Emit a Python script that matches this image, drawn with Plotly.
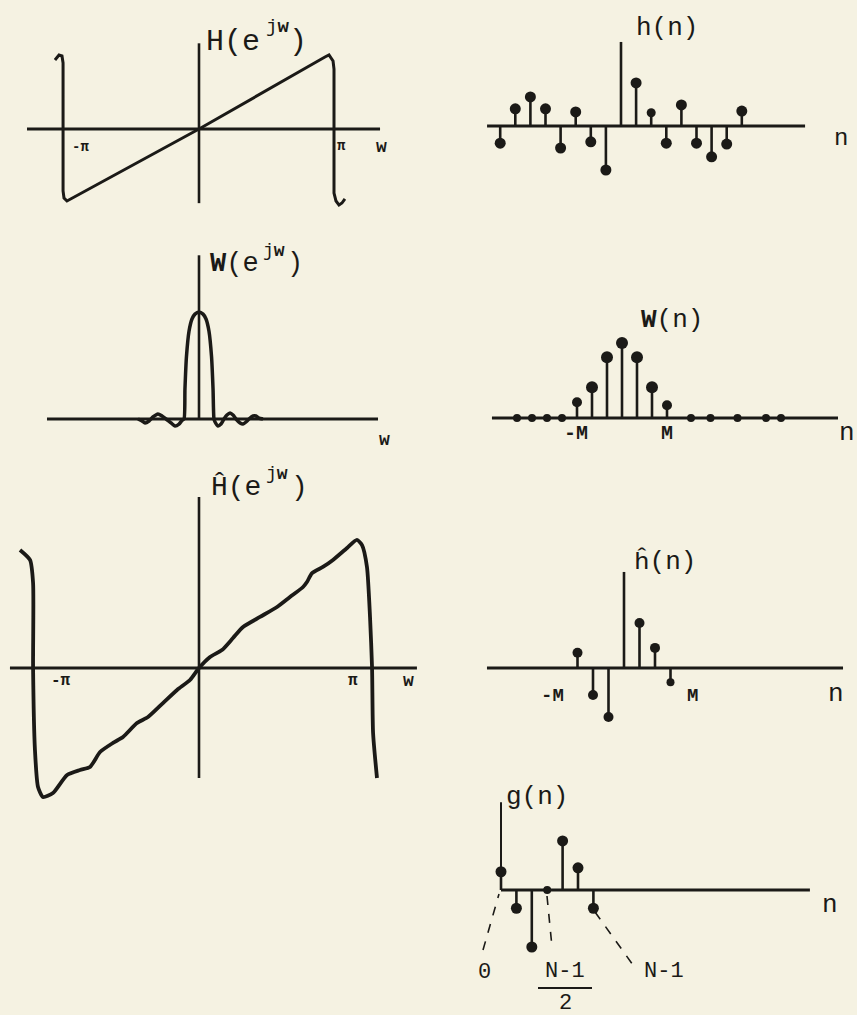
import plotly.graph_objects as go

# ---------------------------------------------------------------- data
# Ideal response H(e^jw): frequency in units of pi, amplitude normalised
w_ideal = [-1.067, -1.037, -1.015, -1.007, -1.007, -1.0, -0.978, 0.0, 0.933,
           0.963, 0.993, 1.0, 1.0, 1.015, 1.037, 1.059, 1.081]
H_ideal = [0.958, 1.028, 1.014, 0.917, -0.861, -0.958, -1.0, 0.0, 1.0,
           1.028, 0.944, 0.833, -0.889, -1.0, -1.056, -1.028, -0.972]

# Ideal impulse response h(n)
n_h = [-8, -7, -6, -5, -4, -3, -2, -1, 1, 2, 3, 4, 5, 6, 7, 8]
h_vals = [-0.39, 0.39, 0.66, 0.39, -0.50, 0.32, -0.36, -1.0,
          0.98, 0.30, -0.39, 0.48, -0.39, -0.70, -0.41, 0.34]

# Window spectrum W(e^jw)
w_win = [-0.452, -0.422, -0.400, -0.370, -0.341, -0.304, -0.274, -0.244,
         -0.207, -0.178, -0.148, -0.125, -0.111, -0.104, -0.093, -0.074,
         -0.052, -0.030, 0.0, 0.030, 0.052, 0.074, 0.093, 0.104, 0.111,
         0.119, 0.141, 0.163, 0.185, 0.207, 0.230, 0.252,
         0.274, 0.304, 0.326, 0.348, 0.370, 0.400, 0.422, 0.444, 0.474]
W_win = [0.0, -0.019, -0.037, -0.019, 0.019, 0.047, 0.028, 0.0,
         -0.037, -0.065, -0.047, -0.012, 0.0, 0.28, 0.58, 0.82,
         0.935, 0.98, 1.0, 0.98, 0.935, 0.82, 0.58, 0.28, 0.0,
         -0.028, -0.065, -0.047, 0.0, 0.037, 0.056, 0.037,
         0.0, -0.037, -0.047, -0.028, 0.0, 0.028, 0.028, 0.009, 0.0]

# Window sequence W(n), M = 3
M = 3
n_w = [-7, -6, -5, -4, -3, -2, -1, 0, 1, 2, 3, 4.6, 5.9, 7.7, 9.6, 10.6]
w_vals = [0, 0, 0, 0, 0.21, 0.41, 0.81, 1.0, 0.81, 0.41, 0.17, 0, 0, 0, 0, 0]

# Windowed response H^(e^jw)
w_hat = [-1.053, -0.994, -0.976, -0.976, -0.965, -0.947, -0.918, -0.859,
         -0.776, -0.700, -0.641, -0.582, -0.506, -0.447, -0.365, -0.300,
         -0.212, -0.129, -0.053, 0.0, 0.065, 0.135, 0.200, 0.259, 0.359,
         0.459, 0.535, 0.612, 0.635, 0.665, 0.729, 0.788, 0.871, 0.929,
         0.959, 0.988, 1.006, 1.018, 1.024, 1.047]
H_hat = [0.855, 0.783, 0.616, 0.0, -0.594, -0.862, -0.935, -0.906,
         -0.775, -0.739, -0.717, -0.609, -0.543, -0.500, -0.399, -0.355,
         -0.254, -0.159, -0.087, 0.0, 0.080, 0.130, 0.217, 0.297, 0.370,
         0.442, 0.514, 0.587, 0.623, 0.688, 0.732, 0.783, 0.870, 0.928,
         0.891, 0.732, 0.370, 0.0, -0.471, -0.797]

# Windowed sequence h^(n)
n_hh = [-3, -2, -1, 1, 2, 3]
hh_vals = [0.31, -0.55, -1.0, 0.92, 0.41, -0.29]

# Causal sequence g(n) = h^(n - (N-1)/2), N - 1 = 6
n_g = [0, 1, 2, 3, 4, 5, 6]
g_vals = [0.32, -0.32, -1.0, 0.0, 0.86, 0.39, -0.32]

# ---------------------------------------------------------------- style
W_PX, H_PX = 857, 1015
BG = "#f5f2e2"
INK = "#1b1a17"
FONT = "Liberation Mono"

fig = go.Figure()
shapes = []
annotations = []


def refs(i):
    return ("x", "y") if i == 1 else (f"x{i}", f"y{i}")


def panel(i, box, origin, scale):
    """Place axis pair i so that data (0,0) sits at `origin` (pixels)."""
    x0, y0, x1, y1 = box
    cx, cy = origin
    sx, sy = scale
    xa = "xaxis" if i == 1 else f"xaxis{i}"
    ya = "yaxis" if i == 1 else f"yaxis{i}"
    xr, yr = refs(i)
    fig.layout[xa] = dict(domain=[x0 / W_PX, x1 / W_PX],
                          range=[(x0 - cx) / sx, (x1 - cx) / sx],
                          visible=False, anchor=yr, fixedrange=True)
    fig.layout[ya] = dict(domain=[1 - y1 / H_PX, 1 - y0 / H_PX],
                          range=[(cy - y1) / sy, (cy - y0) / sy],
                          visible=False, anchor=xr, fixedrange=True)


def axis_line(i, xa, ya, xb, yb, width=3):
    xr, yr = refs(i)
    shapes.append(dict(type="line", xref=xr, yref=yr, x0=xa, y0=ya,
                       x1=xb, y1=yb, line=dict(color=INK, width=width)))


def curve(i, xs, ys, width=3, shape="linear"):
    xr, yr = refs(i)
    fig.add_trace(go.Scatter(x=xs, y=ys, mode="lines", xaxis=xr, yaxis=yr,
                             line=dict(color=INK, width=width, shape=shape,
                                       smoothing=0.6 if shape == "spline" else None),
                             hoverinfo="skip"))


def stems(i, ns, vals, size=9, width=2.6, zero_size=7):
    xr, yr = refs(i)
    sx, sy = [], []
    for n, v in zip(ns, vals):
        if v != 0:
            sx += [n, n, None]
            sy += [0, v, None]
    fig.add_trace(go.Scatter(x=sx, y=sy, mode="lines", xaxis=xr, yaxis=yr,
                             line=dict(color=INK, width=width),
                             hoverinfo="skip"))
    sizes = [zero_size if v == 0 else (size if abs(v) > 0.3 else size - 2)
             for v in vals]
    fig.add_trace(go.Scatter(x=ns, y=vals, mode="markers", xaxis=xr, yaxis=yr,
                             marker=dict(color=INK, size=sizes, opacity=1,
                                         line=dict(width=0)),
                             cliponaxis=False, hoverinfo="skip"))


def label(text, px, py, size=24, xanchor="center", yanchor="middle"):
    annotations.append(dict(text=text, x=px / W_PX, y=1 - py / H_PX,
                            xref="paper", yref="paper", showarrow=False,
                            xanchor=xanchor, yanchor=yanchor, borderpad=0,
                            font=dict(family=FONT, size=size, color=INK)))


def spectrum_label(name, x_base, x_sup, x_close, py, size=28, sup_size=18):
    """Name(e^jw) written as three pieces so the exponent sits raised."""
    label(name + "(e", x_base, py, size=size, xanchor="left")
    label("j<b>w</b>", x_sup, py - 0.5 * size, size=sup_size, xanchor="left")
    label(")", x_close, py, size=size, xanchor="left")


def paper_line(xa, ya, xb, yb, dash=None, width=1.6):
    shapes.append(dict(type="line", xref="paper", yref="paper",
                       x0=xa / W_PX, y0=1 - ya / H_PX,
                       x1=xb / W_PX, y1=1 - yb / H_PX,
                       line=dict(color=INK, width=width, dash=dash)))


# ---------------------------------------------------------------- panels
# 1: H(e^jw)
panel(1, (0, 20, 430, 220), (199, 129), (135, 72))
axis_line(1, -1.274, 0, 1.341, 0)
axis_line(1, 0, 1.19, 0, -1.03, width=2.6)
curve(1, w_ideal, H_ideal, width=3)
spectrum_label("H", 205, 265, 288, 42, size=30, sup_size=19)
label("<b>-π</b>", 80, 147, size=14)
label("<b>π</b>", 341, 146, size=14)
label("<b>w</b>", 381, 147, size=18)

# 2: h(n)
panel(2, (440, 10, 857, 200), (621, 126), (15.1, 44))
axis_line(2, -8.87, 0, 12.19, 0)
axis_line(2, 0, 0, 0, 1.91, width=2.6)
stems(2, n_h, h_vals, size=11)
label("h(n)", 667, 28, size=26)
label("n", 841, 138, size=24)

# 3: W(e^jw)
panel(3, (0, 240, 430, 460), (199, 419), (135, 107))
axis_line(3, -1.126, 0, 1.326, 0)
axis_line(3, 0, 0, 0, 1.53, width=2.6)
curve(3, w_win, W_win, width=3.5, shape="spline")
spectrum_label("<b>W</b>", 209, 262, 286, 264, size=27, sup_size=18)
label("<b>w</b>", 384, 440, size=18)

# 4: W(n)
panel(4, (440, 290, 857, 460), (622, 418), (15.0, 75))
axis_line(4, -8.67, 0, 14.4, 0)
stems(4, n_w, w_vals, size=12, zero_size=8)
label("<b>W</b>(n)", 672, 320, size=26)
label("<b>-M</b>", 576, 434, size=20)
label("<b>M</b>", 667, 434, size=20)
label("n", 847, 433, size=26)

# 5: H^(e^jw)
panel(5, (0, 470, 430, 815), (199, 668), (170, 138))
axis_line(5, -1.112, 0, 1.282, 0)
axis_line(5, 0, 1.239, 0, -0.797, width=2.6)
curve(5, w_hat, H_hat, width=3.8, shape="spline")
spectrum_label("Ĥ", 210, 265, 290, 488, size=28, sup_size=18)
label("<b>-π</b>", 61, 681, size=16)
label("<b>π</b>", 353, 681, size=16)
label("<b>w</b>", 408, 681, size=18)

# 6: h^(n)
panel(6, (440, 540, 857, 735), (624, 668), (15.5, 49))
axis_line(6, -8.84, 0, 14.13, 0)
axis_line(6, 0, 0, 0, 1.96, width=2.6)
stems(6, n_hh, hh_vals, size=10)
label("ĥ(n)", 665, 562, size=26)
label("<b>-M</b>", 552, 696, size=19)
label("<b>M</b>", 692, 696, size=19)
label("n", 836, 694, size=26)

# 7: g(n)
panel(7, (440, 780, 857, 1015), (501, 890), (15.4, 57))
axis_line(7, 0, 0, 20.06, 0)
axis_line(7, 0, 0, 0, 1.54, width=2)
stems(7, n_g, g_vals, size=11, zero_size=8)
label("g(n)", 537, 797, size=26)
label("n", 830, 905, size=26)

# index annotations below g(n)
paper_line(483, 950, 499, 894, dash="dash")
paper_line(547, 896, 552, 947, dash="dash")
paper_line(595, 912, 633, 965, dash="dash")
label("0", 484, 972, size=22)
label("N-1", 565, 971, size=22)
paper_line(538, 988, 592, 988, width=2.2)
label("2", 565, 1003, size=22)
label("N-1", 664, 971, size=22)

fig.update_layout(width=W_PX, height=H_PX,
                  margin=dict(l=0, r=0, t=0, b=0),
                  paper_bgcolor=BG, plot_bgcolor="rgba(0,0,0,0)",
                  showlegend=False, shapes=shapes, annotations=annotations)

fig.write_html("out.html")
